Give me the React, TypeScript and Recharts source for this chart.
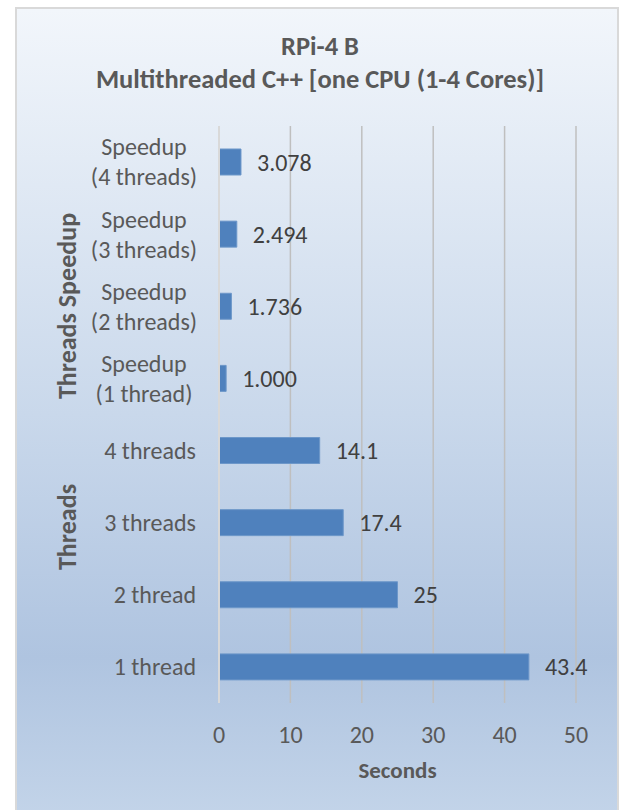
import React from "react";
import { BarChart, Bar, XAxis, YAxis, CartesianGrid, LabelList } from "recharts";

const categories = [
  "Speedup\n(4 threads)",
  "Speedup\n(3 threads)",
  "Speedup\n(2 threads)",
  "Speedup\n(1 thread)",
  "4 threads",
  "3 threads",
  "2 thread",
  "1 thread",
];
const values = [3.078, 2.494, 1.736, 1.0, 14.1, 17.4, 25, 43.4];
const valueLabels = ["3.078", "2.494", "1.736", "1.000", "14.1", "17.4", "25", "43.4"];
const xTicks = [0, 10, 20, 30, 40, 50];

const data = categories.map((c, i) => ({ name: c, value: values[i], label: valueLabels[i] }));

const FONT = "Carlito, Calibri, Lato, sans-serif";
const TEXT = "#595959";

const CategoryTick = (props: any) => {
  const { x, y, payload } = props;
  const lines = String(payload.value).split("\n");
  if (lines.length === 1) {
    return (
      <text x={x - 15} y={y} dy="0.35em" textAnchor="end" fill={TEXT} fontSize={24} fontFamily={FONT}>
        {lines[0]}
      </text>
    );
  }
  // two-line labels: centred block, right edge near the axis
  const cx = x - 67;
  return (
    <text textAnchor="middle" fill={TEXT} fontSize={24} fontFamily={FONT}>
      <tspan x={cx} y={y - 15} dy="0.35em">{lines[0]}</tspan>
      <tspan x={cx} y={y + 15} dy="0.35em">{lines[1]}</tspan>
    </text>
  );
};

const groupTitle: React.CSSProperties = {
  position: "absolute",
  left: 67,
  transform: "translate(-50%, -50%) rotate(-90deg)",
  whiteSpace: "nowrap",
  fontFamily: FONT,
  fontWeight: "bold",
  fontSize: 26,
  color: TEXT,
};

export default function App() {
  return (
    <div style={{ position: "absolute", left: 0, top: 0, width: 622, height: 810, background: "#fff", overflow: "hidden" }}>
      <div
        style={{
          position: "absolute",
          left: 15,
          top: 7,
          width: 600,
          height: 810,
          borderLeft: "2px solid #d9d9d9",
          borderTop: "2px solid #d9d9d9",
          borderRight: "2px solid #d9d9d9",
          background: "linear-gradient(to bottom, #f2f6fb 0%, #c9d8eb 50%, #afc4e0 80%, #c3d4e9 100%)",
        }}
      />
      <div
        style={{
          position: "absolute",
          left: 0,
          top: 30,
          width: 640,
          textAlign: "center",
          fontFamily: FONT,
          fontWeight: "bold",
          fontSize: 26.5,
          color: TEXT,
          lineHeight: "33px",
        }}
      >
        <div>RPi-4 B</div>
        <div>Multithreaded C++ [one CPU (1-4 Cores)]</div>
      </div>
      <div style={{ ...groupTitle, top: 306 }}>Threads Speedup</div>
      <div style={{ ...groupTitle, top: 527 }}>Threads</div>
      <div style={{ position: "absolute", left: 0, top: 0 }}>
        <BarChart
          width={622}
          height={810}
          data={data}
          layout="vertical"
          margin={{ top: 126, right: 46, bottom: 32, left: 0 }}
          barCategoryGap={23}
        >
          <CartesianGrid horizontal={false} stroke="#bfbfbf" strokeWidth={1.5} />
          <XAxis
            type="number"
            domain={[0, 50]}
            ticks={xTicks}
            axisLine={false}
            tickLine={false}
            tickMargin={17}
            tick={{ fill: TEXT, fontSize: 24, fontFamily: FONT }}
            height={75}
            label={{
              value: "Seconds",
              position: "insideBottom",
              offset: 0,
              fill: TEXT,
              fontSize: 23,
              fontWeight: "bold",
              fontFamily: FONT,
            }}
          />
          <YAxis
            type="category"
            dataKey="name"
            width={219}
            axisLine={{ stroke: "#d9d9d9", strokeWidth: 2 }}
            tickLine={false}
            tick={<CategoryTick />}
            interval={0}
          />
          <Bar dataKey="value" fill="#4f81bd" stroke="#6d97c9" strokeWidth={1} barSize={26} isAnimationActive={false}>
            <LabelList dataKey="label" position="right" offset={16} fill="#404040" fontSize={24} fontFamily={FONT} />
          </Bar>
        </BarChart>
      </div>
    </div>
  );
}
